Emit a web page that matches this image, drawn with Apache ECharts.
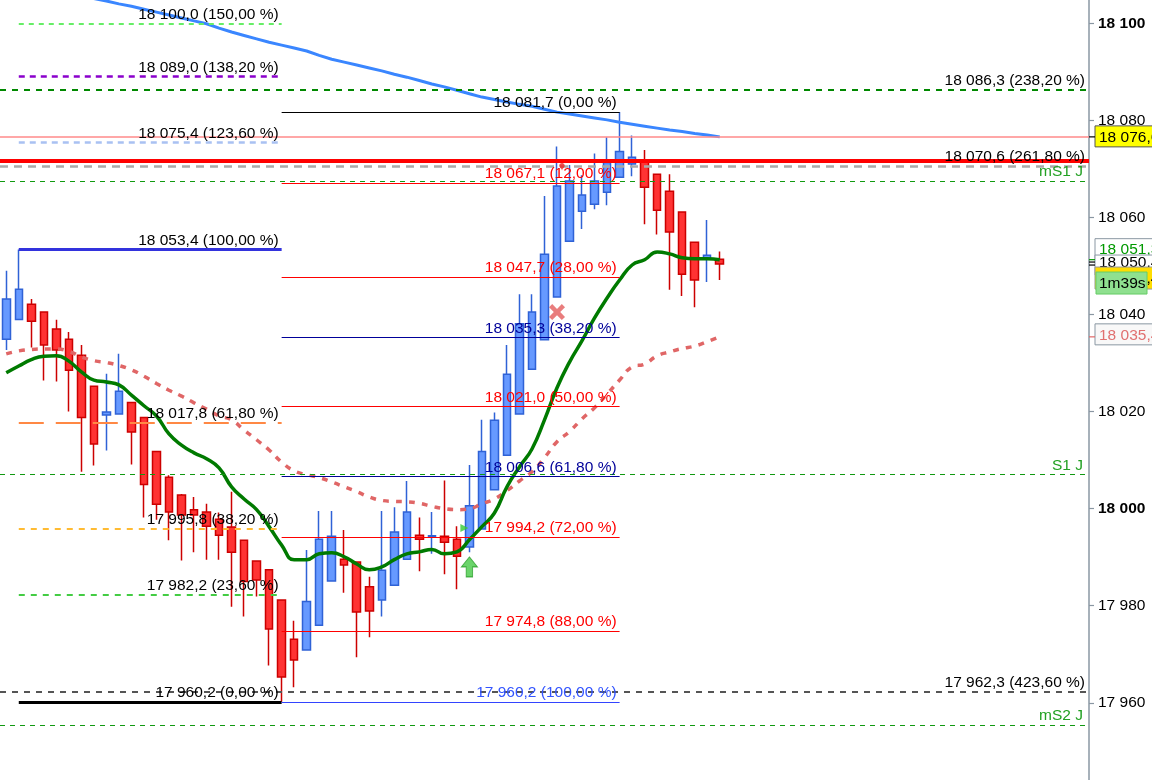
<!DOCTYPE html>
<html><head><meta charset="utf-8">
<script src="https://cdn.jsdelivr.net/npm/echarts@6/dist/echarts.min.js"></script>
<style>html,body{margin:0;padding:0;background:#fff;overflow:hidden}#c{width:1152px;height:780px}</style>
</head><body><div id="c"></div>
<script>
// ---------- DATA ----------
const candleOpen  = [18034.9,18039.0,18042.1,18040.5,18037.0,18034.9,18031.6,18025.2,18019.3,18019.5,18021.9,18018.8,18011.8,18006.5,18002.8,17999.8,17999.3,17997.8,17996.2,17993.5,17989.2,17987.4,17981.2,17973.1,17970.9,17976.0,17985.1,17989.6,17989.0,17983.9,17981.2,17984.2,17989.6,17994.5,17994.3,17994.3,17993.7,17992.1,17995.8,18003.9,18011.0,18019.5,18028.7,18034.8,18043.6,18055.1,18061.3,18062.7,18065.2,18068.3,18071.0,18071.5,18068.9,18065.4,18061.1,18054.9,18051.5,18051.4];
const candleClose = [18043.2,18045.2,18038.6,18033.7,18032.7,18028.5,18018.8,18013.3,18019.9,18024.2,18015.8,18005.0,18000.9,17999.3,17998.7,17998.7,17996.4,17994.5,17991.0,17985.0,17985.3,17975.2,17965.3,17968.8,17980.9,17993.7,17994.3,17988.4,17978.7,17978.9,17987.3,17995.2,17999.3,17993.7,17994.4,17993.1,17990.2,18000.6,18011.8,18018.2,18027.7,18038.1,18040.5,18052.4,18066.5,18067.5,18064.6,18067.5,18071.3,18073.6,18072.4,18066.2,18061.5,18057.0,18048.3,18047.1,18052.2,18050.4];
const candleLow   = [18032.7,18038.8,18033.2,18026.4,18026.2,18020.0,18007.6,18008.9,18012.0,18019.4,18009.1,17998.2,17997.7,17993.5,17989.3,17991.0,17989.5,17989.5,17979.8,17977.8,17981.9,17967.7,17960.2,17963.2,17970.8,17975.9,17985.0,17982.7,17969.4,17973.5,17977.8,17984.1,17989.5,17987.1,17990.7,17986.5,17983.4,17991.0,17995.7,18003.8,18010.9,18019.4,18028.6,18034.7,18043.5,18055.0,18057.6,18061.7,18062.5,18068.2,18068.5,18058.6,18056.5,18045.1,18043.8,18041.5,18046.7,18047.1];
const candleHigh  = [18049.0,18053.4,18043.2,18040.6,18038.9,18036.4,18033.7,18025.3,18027.8,18031.9,18022.0,18018.9,18011.9,18006.9,18003.0,18002.4,18001.0,17999.2,18003.5,17993.6,17989.3,17987.5,17981.3,17976.9,17991.5,17999.5,17999.5,17995.6,17989.1,17986.0,17999.5,18000.3,18005.7,17998.2,17999.3,18005.8,17996.4,18009.0,18018.3,18019.8,18033.7,18044.2,18044.2,18064.4,18074.6,18070.8,18068.7,18073.2,18076.5,18081.7,18076.9,18073.9,18069.0,18068.9,18061.2,18055.0,18059.5,18053.0];

const maFast = [18028.0,18029.4,18030.7,18031.4,18031.5,18030.4,18028.2,18026.5,18026.1,18025.5,18023.4,18021.2,18019.1,18015.4,18013.1,18011.5,18010.3,18008.4,18004.5,18002.0,17999.8,17996.3,17992.5,17989.5,17989.5,17990.7,17990.9,17990.1,17988.6,17987.4,17988.0,17989.5,17990.7,17991.1,17991.6,17990.7,17991.1,17993.6,17996.3,17999.1,18004.5,18008.6,18012.3,18018.3,18024.9,18030.2,18034.6,18039.3,18043.4,18047.1,18050.2,18051.3,18052.9,18052.5,18051.7,18051.5,18051.5,18051.3];
const maMid  = [18031.9,18032.5,18032.8,18032.9,18032.9,18032.4,18031.3,18030.5,18030.1,18029.5,18028.6,18027.3,18025.8,18024.4,18023.2,18021.8,18020.5,18019.1,18018.3,18016.2,18014.2,18012.1,18009.6,18007.8,18007.0,18006.4,18005.5,18004.5,18003.5,18002.4,18001.7,18001.5,18001.4,18001.1,18000.5,18000.0,17999.8,18000.0,18001.0,18002.0,18003.7,18005.7,18007.6,18010.5,18013.8,18015.9,18018.5,18020.8,18023.6,18026.5,18029.2,18029.8,18031.5,18032.3,18033.0,18033.5,18034.4,18035.4];
const maSlow = [18109.5,18108.9,18108.3,18107.7,18107.0,18106.4,18105.8,18105.1,18104.6,18104.0,18103.5,18102.9,18102.3,18101.7,18101.1,18100.5,18099.9,18099.0,18098.2,18097.5,18096.8,18096.1,18095.5,18094.9,18094.3,18093.4,18092.6,18092.0,18091.4,18090.8,18090.2,18089.5,18088.9,18088.2,18087.5,18086.9,18086.2,18085.5,18084.8,18084.3,18083.8,18083.3,18082.9,18082.3,18081.7,18081.3,18080.9,18080.5,18080.1,18079.6,18079.2,18078.8,18078.4,18078.0,18077.7,18077.3,18077.0,18076.6];

// Fibonacci extension (left) and retracement (right)
const leftFibLevels  = [18100.0,18089.0,18075.4,18053.4,18017.8,17995.8,17982.2,17960.2];
const leftFibPct     = ['150,00','138,20','123,60','100,00','61,80','38,20','23,60','0,00'];
const rightFibLevels = [18081.7,18067.1,18047.7,18035.3,18021.0,18006.6,17994.2,17974.8,17960.2];
const rightFibPct    = ['0,00','12,00','28,00','38,20','50,00','61,80','72,00','88,00','100,00'];
// full-width extension levels
const extLevels = [18086.3,18070.6,17962.3];
const extPct    = ['238,20','261,80','423,60'];
// pivot levels
const pivotNames  = ['mS1 J','S1 J','mS2 J'];
const pivotLevels = [18067.5,18007.0,17955.4];
// user resistance line (thick red)
const redLevel = 18071.6;

const yTicks = [17960,17980,18000,18020,18040,18060,18080,18100];
const yMin = 17944.1, yMax = 18104.8;
const categoryCount = 87;
const categories = Array.from({length: categoryCount}, (_, i) => String(i + 1));
const timerText = '1m39s';

// markers: [index, value]
const sellMark = [44, 18040.5];
const buyArrow = [37, 17988.0];
const buyTri   = [37, 17996.0];
const redPin   = [44, 18069.6];

// ---------- HELPERS ----------
const FONT = '"Liberation Sans", Arial, sans-serif';
function fmt(v, dec) {
  const s = v.toFixed(dec);
  const parts = s.split('.');
  const ip = parts[0].replace(/\B(?=(\d{3})+(?!\d))/g, ' ');
  return parts[1] ? ip + ',' + parts[1] : ip;
}
const lastIdx = candleClose.length - 1;
const lastClose = candleClose[lastIdx];

const leftStyles = [
  {color:'#66ee66', type:[5,5], width:2},
  {color:'#8a00cc', type:[6,5], width:2.5},
  {color:'#a9c1f2', type:[6,5], width:2.5},
  {color:'#3333dd', type:'solid', width:3},
  {color:'#ff8844', type:[25,12], width:2},
  {color:'#ffbb33', type:[6,6], width:2},
  {color:'#44cc44', type:[6,6], width:2},
  {color:'#000000', type:'solid', width:3}
];
const rightColors = ['#000000','#ff0000','#ff0000','#000099','#ff0000','#000099','#ff0000','#ff0000','#3344ff'];
const rightText   = ['#000000','#ff0000','#ff0000','#000099','#ff0000','#000099','#ff0000','#ff0000','#3355ff'];

const baseLabel = {show:true, position:'insideEndTop', distance:[3,1], fontFamily:FONT, fontSize:15.5, color:'#000'};

const markData = [];
// full-width lines
markData.push({yAxis: maSlow[lastIdx], lineStyle:{color:'#ff8a8a', type:'solid', width:1.5}, label:{show:false}});
const extStyles = [
  {color:'#008800', type:[6,6], width:2},
  {color:'#aaaaaa', type:[8,6], width:2.5},
  {color:'#555555', type:[6,6], width:2}
];
extLevels.forEach((v, i) => {
  markData.push({yAxis:v, lineStyle:extStyles[i],
    label:Object.assign({}, baseLabel, {distance:[4,1], formatter: fmt(v,1) + ' (' + extPct[i] + ' %)'})});
});
markData.push({yAxis: redLevel, lineStyle:{color:'#ff0000', type:'solid', width:4}, label:{show:false}});
pivotLevels.forEach((v, i) => {
  markData.push({yAxis:v, lineStyle:{color:'#119911', type:[5,5], width:1},
    label:Object.assign({}, baseLabel, {distance:[6,1], color:'#22a022', formatter: pivotNames[i]})});
});
leftFibLevels.forEach((v, i) => {
  markData.push([
    {coord:[1, v], lineStyle:leftStyles[i], label:Object.assign({}, baseLabel, {formatter: fmt(v,1) + ' (' + leftFibPct[i] + ' %)'})},
    {coord:[22, v]}
  ]);
});
rightFibLevels.forEach((v, i) => {
  markData.push([
    {coord:[22, v], lineStyle:{color:rightColors[i], type:'solid', width:1.2},
     label:Object.assign({}, baseLabel, {color:rightText[i], formatter: fmt(v,1) + ' (' + rightFibPct[i] + ' %)'})},
    {coord:[49, v]}
  ]);
});

const chart = echarts.init(document.getElementById('c'), null, {renderer:'canvas'});
chart.setOption({
  animation:false,
  backgroundColor:'#ffffff',
  grid:{left:-1, right:63, top:0, bottom:0, containLabel:false},
  xAxis:{type:'category', data:categories, boundaryGap:true, show:false},
  yAxis:{
    type:'value', position:'right', min:yMin, max:yMax,
    splitLine:{show:false},
    axisLine:{show:true, lineStyle:{color:'#8a97a3', width:1.5}},
    axisTick:{show:true, length:5, customValues:yTicks, lineStyle:{color:'#8a97a3', width:1.2}},
    axisLabel:{show:true, customValues:yTicks, margin:9, color:'#000', fontFamily:FONT, fontSize:15.5,
      formatter:(v) => { const s = fmt(v,0); return (v % 100 === 0) ? '{b|' + s + '}' : s; },
      rich:{b:{fontWeight:'bold', color:'#000', fontFamily:FONT, fontSize:15.5}}}
  },
  series:[
    {type:'candlestick', name:'price', z:2, barWidth:8,
     data: candleOpen.map((o,i) => [o, candleClose[i], candleLow[i], candleHigh[i]]),
     itemStyle:{color:'#6699ff', color0:'#ff3333', borderColor:'#2f62d6', borderColor0:'#cc0000', borderWidth:1.5}},
    {type:'line', name:'maSlow', z:3, data:maSlow, symbol:'none', smooth:false,
     lineStyle:{color:'#3a86ff', width:3}},
    {type:'line', name:'maMid', z:3, data:maMid, symbol:'none', smooth:true,
     lineStyle:{color:'#e06666', width:3.5, type:[6,7]}},
    {type:'line', name:'maFast', z:3, data:maFast, symbol:'none', smooth:true,
     lineStyle:{color:'#007a00', width:3.5}},
    {type:'line', name:'levels', z:4, data:[], symbol:'none',
     markLine:{silent:true, symbol:['none','none'], animation:false, data:markData}},
    {type:'scatter', name:'marks', z:5, silent:true, data:[
      {value:sellMark, symbol:'path://M2,0 L5,3 L8,0 L10,2 L7,5 L10,8 L8,10 L5,7 L2,10 L0,8 L3,5 L0,2 Z', symbolSize:16, itemStyle:{color:'#e35d5d'}},
      {value:buyArrow, symbol:'path://M5,0 L10,5 L7,5 L7,10 L3,10 L3,5 L0,5 Z', symbolSize:[16,20], itemStyle:{color:'#45c945', borderColor:'#2b9e2b', borderWidth:1}},
      {value:buyTri, symbol:'triangle', symbolRotate:-90, symbolSize:8, symbolOffset:[-5,0], itemStyle:{color:'#33cc33'}},
      {value:redPin, symbol:'pin', symbolSize:9, symbolOffset:[5,0], itemStyle:{color:'#ee2222'}}
    ]}
  ]
});

// price boxes on the right axis, positioned from the axis scale
const Y = v => chart.convertToPixel({yAxisIndex:0}, v);
const axisX = chart.getWidth() - 63;
const boxX = axisX + 6;
const g = [];
function box(top, h, fill, stroke, txt, txtColor, z, textDy) {
  g.push({type:'rect', z:z, shape:{x:boxX, y:top, width:70, height:h}, style:{fill:fill, stroke:stroke, lineWidth:1}});
  g.push({type:'text', z:z+1, style:{text:txt, x:boxX+4, y:top + (textDy !== undefined ? textDy : h/2 + 1), fill:txtColor, font:'15.5px ' + FONT, verticalAlign:'middle'}});
}
function tick(y, color) {
  g.push({type:'line', z:30, shape:{x1:axisX, y1:y, x2:axisX+6, y2:y}, style:{stroke:color, lineWidth:1.2}});
}
const yMA = Y(maSlow[lastIdx]);
box(yMA - 11, 21, '#ffff00', '#555555', fmt(maSlow[lastIdx],1), '#000', 10);
tick(yMA, '#000');
const yFast = Y(maFast[lastIdx]);
const yClose = Y(lastClose);
box(yFast - 21, 20, '#ffffff', '#8a97a3', fmt(maFast[lastIdx],1), '#009900', 12, 11);
box(yClose - 9, 20, '#ffffff', '#8a97a3', fmt(lastClose,1), '#000', 14, 8);
box(yClose + 3, 22, '#ffdd00', '#999999', fmt(lastClose,1), '#000', 16);
g.push({type:'rect', z:18, shape:{x:boxX+1, y:yClose+8, width:51, height:22}, style:{fill:'#8fe08f', stroke:'#66cc66', lineWidth:1}});
g.push({type:'text', z:19, style:{text:timerText, x:boxX+4, y:yClose+20, fill:'#000', font:'15.5px ' + FONT, verticalAlign:'middle'}});
tick(yFast, '#009900');
tick(yClose - 2, '#000');
tick(yClose + 1, '#000');
const yMid = Y(maMid[lastIdx]);
box(yMid - 13, 21, '#f8f8f8', '#8a97a3', fmt(maMid[lastIdx],1), '#e07070', 20);
tick(yMid, '#e06666');
chart.setOption({graphic:{elements:g}});
</script>
</body></html>
